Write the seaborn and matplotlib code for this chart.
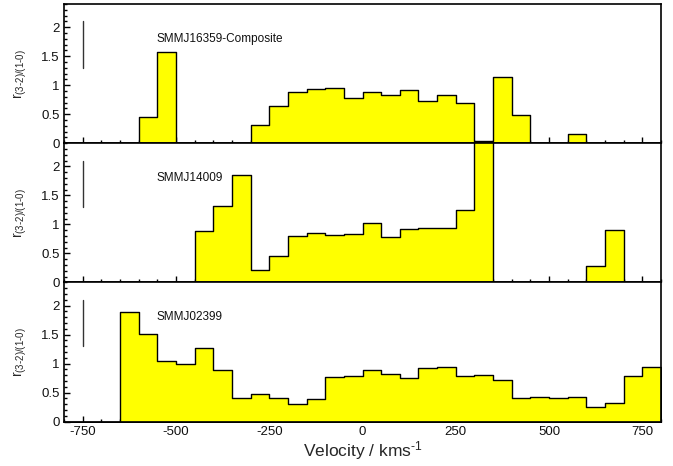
import numpy as np
import pandas as pd
import matplotlib
matplotlib.use("Agg")
import matplotlib.pyplot as plt
from matplotlib.ticker import MultipleLocator, FuncFormatter
import seaborn as sns

sns.set_style("ticks")
plt.rcParams['font.family'] = ['Liberation Sans', 'DejaVu Sans']
plt.rcParams['axes.unicode_minus'] = False
plt.rcParams['mathtext.fontset'] = 'custom'
plt.rcParams['mathtext.rm'] = 'Liberation Sans'
plt.rcParams['mathtext.it'] = 'Liberation Sans'

bin_left = list(range(-800, 800, 50))
bin_edges = list(range(-800, 801, 50))

names = ["SMMJ16359-Composite", "SMMJ14009", "SMMJ02399"]

r_16359 = [0, 0, 0, 0, 0.46, 1.57, 0, 0, 0, 0,
           0.31, 0.64, 0.88, 0.94, 0.95, 0.78, 0.88, 0.83, 0.92, 0.73,
           0.84, 0.70, 0.03, 1.14, 0.49, 0, 0, 0.16, 0, 0, 0, 0]
r_14009 = [0, 0, 0, 0, 0, 0, 0, 0.89, 1.32, 1.86,
           0.22, 0.45, 0.80, 0.85, 0.81, 0.83, 1.02, 0.79, 0.92, 0.94,
           0.94, 1.25, 2.60, 0, 0, 0, 0, 0, 0.28, 0.91, 0, 0]
r_02399 = [0, 0, 0, 1.89, 1.51, 1.04, 0.99, 1.27, 0.89, 0.41,
           0.47, 0.40, 0.31, 0.39, 0.77, 0.79, 0.89, 0.82, 0.76, 0.92,
           0.94, 0.78, 0.80, 0.72, 0.40, 0.43, 0.40, 0.42, 0.26, 0.33, 0.79, 0.94]
series = [r_16359, r_14009, r_02399]

errbar_x = -750
errbar_y = [1.3, 2.1]

fig = plt.figure(figsize=(6.73, 4.66), dpi=100)
left, right = 64 / 673, 661 / 673
bottom_px, top_px = 421.7, 4.0
ph = (bottom_px - top_px) / 3
axes = []
for i in range(3):
    y0 = 1 - (top_px + ph * (i + 1)) / 466
    ax = fig.add_axes([left, y0, right - left, ph / 466])
    axes.append(ax)

for ax, name, vals in zip(axes, names, series):
    centers = [b + 25 for b in bin_left]
    df = pd.DataFrame({"v": centers, "r": vals})
    sns.histplot(data=df, x="v", weights="r", bins=bin_edges, element="step",
                 fill=True, color="#ffff00", alpha=1.0, edgecolor="black",
                 linewidth=1.0, ax=ax)
    ax.plot([errbar_x, errbar_x], errbar_y, color="#333333", lw=1.0)
    ax.text(-552, 1.8, name, fontsize=8.5, va="center", ha="left", color="#111111")
    ax.set_xlim(-800, 800)
    ax.set_ylim(0, 2.4)
    ax.set_ylabel(r"r$_{\text{(3-2)/(1-0)}}$", fontsize=10)
    ax.yaxis.set_label_coords(-0.058, 0.5)
    ax.xaxis.set_major_locator(MultipleLocator(250))
    ax.xaxis.set_minor_locator(MultipleLocator(50))
    ax.yaxis.set_major_locator(MultipleLocator(0.5))
    ax.yaxis.set_minor_locator(MultipleLocator(0.1))
    ax.yaxis.set_major_formatter(FuncFormatter(lambda v, p: "%g" % v))
    ax.tick_params(axis="both", which="both", direction="in", top=False, right=False,
                   labelsize=9.5, width=1.0, color="black", labelcolor="#111111")
    ax.tick_params(which="major", length=4, pad=3)
    ax.tick_params(which="minor", length=2.5)
    for s in ax.spines.values():
        s.set_linewidth(1.2)
        s.set_color("black")
        s.set_visible(True)
    ax.set_xlabel("")

for ax in axes[:2]:
    ax.tick_params(labelbottom=False)

axes[2].set_xlabel(r"Velocity / kms$^{\text{-1}}$", fontsize=12.5, labelpad=1)

fig.savefig("out.png", dpi=100)
